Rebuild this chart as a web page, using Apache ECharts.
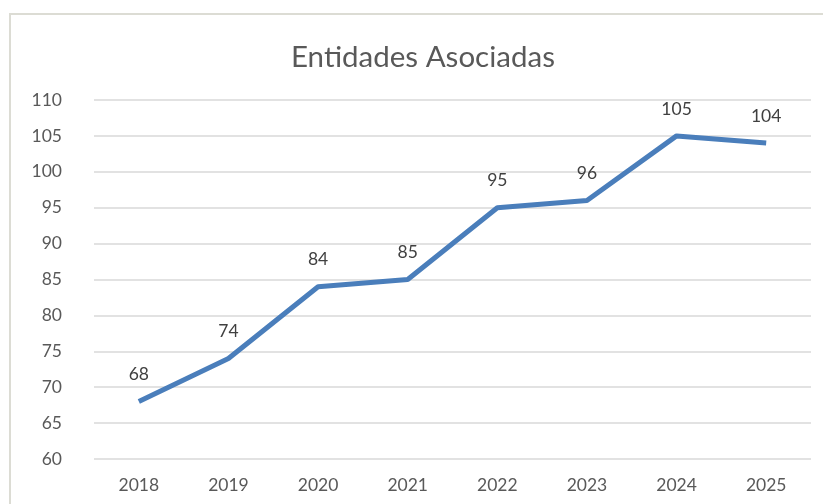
<!DOCTYPE html>
<html>
<head>
<meta charset="utf-8">
<script src="https://cdn.jsdelivr.net/npm/echarts@6/dist/echarts.min.js"></script>
<style>
    html, body { margin: 0; padding: 0; background: #fff; }
    #frame {
        position: absolute; left: 9px; top: 13px; width: 900px; height: 600px;
        border: 2px solid #dcdcd4;
    }
    #main { position: absolute; left: 0; top: 0; width: 823px; height: 504px; }
</style>
</head>
<body>
<div id="frame"></div>
<div id="main"></div>
<script>
    // datos
    const years = ['2018', '2019', '2020', '2021', '2022', '2023', '2024', '2025'];
    const entidades = [68, 74, 84, 85, 95, 96, 105, 104];

    let myChart = echarts.init(document.getElementById('main'))
    let option = {
        animation: false,
        textStyle: {fontFamily: 'Lato'},
        title: {
            text: 'Entidades Asociadas',
            left: 286,
            top: 37,
            textStyle: {fontSize: 29.5, fontWeight: 'normal', color: '#595959', fontFamily: 'Lato'}
        },
        grid: {left: 94, right: 12, top: 100, bottom: 45},
        xAxis: {
            type: 'category',
            data: years,
            boundaryGap: true,
            axisLine: {show: false},
            axisTick: {show: false},
            axisLabel: {fontSize: 17.5, color: '#595959', margin: 17}
        },
        yAxis: {
            type: 'value',
            min: 60,
            max: 110,
            interval: 5,
            axisLine: {show: false},
            axisTick: {show: false},
            axisLabel: {fontSize: 17.5, color: '#595959', margin: 32},
            splitLine: {lineStyle: {color: '#d9d9d9', width: 1.5}}
        },
        series: [
            {
                type: 'line',
                data: entidades,
                symbol: 'circle',
                symbolSize: 2,
                showSymbol: true,
                itemStyle: {color: 'rgba(74,126,187,0)'},
                lineStyle: {color: '#4a7ebb', width: 5},
                label: {
                    show: true,
                    position: 'top',
                    distance: 17,
                    fontSize: 17.5,
                    color: '#404040'
                }
            }
        ]
    }
    myChart.setOption(option);
</script>
</body>
</html>
